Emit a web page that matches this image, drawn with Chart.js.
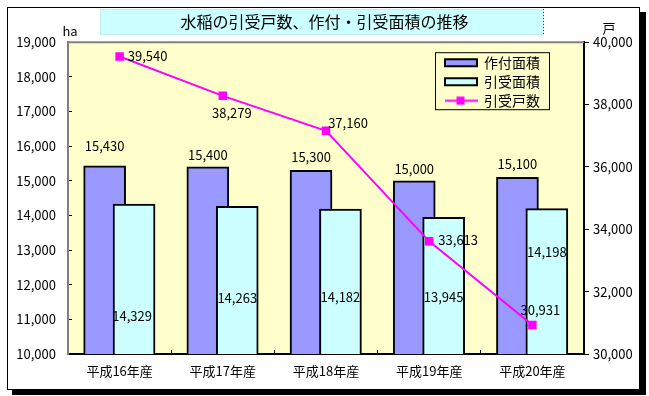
<!DOCTYPE html>
<html>
<head>
<meta charset="utf-8">
<script src="https://cdn.jsdelivr.net/npm/chart.js@4"></script>
<style>
  html, body { margin: 0; padding: 0; background: #fff; }
  #wrap { width: 649px; height: 396px; }
</style>
</head>
<body>
<div id="wrap"><canvas id="myChart" width="649" height="396"></canvas></div>
<script>
"use strict";
// Data
const years = ["平成16年産", "平成17年産", "平成18年産", "平成19年産", "平成20年産"];
const plantedArea = [15430, 15400, 15300, 15000, 15100];   // 作付面積 (ha)
const insuredArea = [14329, 14263, 14182, 13945, 14198];   // 引受面積 (ha)
const insuredFarms = [39540, 38279, 37160, 33613, 30931];  // 引受戸数 (戸)

// Label placement (pixel offsets, moved by hand in the original)
const plantedLabelDy = [-20, -12, -13, -12, -13];
const insuredLabelDy = [112, 92, 88, 80, 43];
const farmLabelDx = [28, 9, 22, 29, 8];
const farmLabelDy = [0, 17, -8, -1, -15];

const FONT = '"Noto Sans CJK JP", "Noto Sans", sans-serif';
const MAGENTA = "#ff00ff";
Chart.defaults.font.family = FONT;
Chart.defaults.font.size = 13;
Chart.defaults.color = "#000";

// legend icon for the line series
const lineIcon = document.createElement("canvas");
lineIcon.width = 33;
lineIcon.height = 9;
(function () {
    const c = lineIcon.getContext("2d");
    c.fillStyle = MAGENTA;
    c.fillRect(0, 3.5, 33, 2);
    c.fillRect(12, 0.5, 8, 8);
})();

const fmt = (v) => v.toLocaleString("en-US");

const framePlugin = {
    id: "frame",
    beforeDraw(chart) {
        const { ctx, chartArea: a } = chart;
        ctx.save();
        ctx.fillStyle = "#fff";
        ctx.fillRect(0, 0, chart.width, chart.height);
        ctx.fillStyle = "#000";
        ctx.fillRect(12, 12, 634, 383);
        ctx.fillStyle = "#fff";
        ctx.fillRect(7, 7, 633, 383);
        ctx.strokeStyle = "#000";
        ctx.lineWidth = 1;
        ctx.strokeRect(7.5, 7.5, 632, 382);
        // title box
        ctx.fillStyle = "#ccffff";
        ctx.fillRect(100, 9, 444, 26);
        ctx.strokeStyle = "#bfeeee";
        ctx.strokeRect(100.5, 9.5, 443, 25);
        ctx.strokeStyle = "#444";
        ctx.setLineDash([1, 2]);
        ctx.beginPath();
        ctx.moveTo(543.5, 9);
        ctx.lineTo(543.5, 35);
        ctx.stroke();
        ctx.setLineDash([]);
        // plot area
        ctx.fillStyle = "#ffffcc";
        ctx.fillRect(a.left, a.top, a.right - a.left, a.bottom - a.top);
        ctx.restore();
    },
    afterLayout(chart) {
        const lg = chart.legend;
        const a = chart.chartArea;
        lg.left = a.right - 144;
        lg.top = a.top + 8.5;
        lg.width = 120;
        lg.height = 80;
        lg.right = lg.left + lg.width;
        lg.bottom = lg.top + lg.height;
    },
    afterDraw(chart) {
        const { ctx, chartArea: a } = chart;
        ctx.save();
        // plot area top edge
        ctx.strokeStyle = "#808080";
        ctx.lineWidth = 2;
        ctx.beginPath();
        ctx.moveTo(a.left, a.top);
        ctx.lineTo(a.right, a.top);
        ctx.stroke();
        // legend frame
        ctx.strokeStyle = "#000";
        ctx.lineWidth = 1;
        ctx.strokeRect(a.right - 148.5, a.top + 10.5, 114, 57);
        // axis units
        ctx.fillStyle = "#000";
        ctx.font = "13px " + FONT;
        ctx.textAlign = "center";
        ctx.textBaseline = "middle";
        ctx.fillText("ha", a.left + 2, 31);
        ctx.fillText("戸", a.right + 25, 28);
        ctx.restore();
    },
    afterDatasetsDraw(chart) {
        const { ctx } = chart;
        ctx.save();
        ctx.fillStyle = "#000";
        ctx.font = "13px " + FONT;
        ctx.textAlign = "center";
        ctx.textBaseline = "middle";
        chart.getDatasetMeta(0).data.forEach((bar, i) => {
            ctx.fillText(fmt(plantedArea[i]), bar.x, bar.y + plantedLabelDy[i]);
        });
        chart.getDatasetMeta(1).data.forEach((bar, i) => {
            ctx.fillText(fmt(insuredArea[i]), bar.x - (i === 0 ? 2 : 0), bar.y + insuredLabelDy[i]);
        });
        chart.getDatasetMeta(2).data.forEach((pt, i) => {
            ctx.fillText(fmt(insuredFarms[i]), pt.x + farmLabelDx[i], pt.y + farmLabelDy[i]);
        });
        ctx.restore();
    },
};

const barShift = [-0.145, 0.14];

const data = {
    labels: years,
    datasets: [
        {
            type: "bar",
            label: "作付面積",
            data: plantedArea.map((v, i) => ({ x: i + barShift[0], y: v })),
            backgroundColor: "#9999ff",
            borderColor: "#000",
            borderWidth: 2,
            barThickness: 42,
            grouped: false,
            xAxisID: "xb",
            yAxisID: "y",
            order: 3,
        },
        {
            type: "bar",
            label: "引受面積",
            data: insuredArea.map((v, i) => ({ x: i + barShift[1], y: v })),
            backgroundColor: "#ccffff",
            borderColor: "#000",
            borderWidth: 2,
            barThickness: 42,
            grouped: false,
            xAxisID: "xb",
            yAxisID: "y",
            order: 2,
        },
        {
            type: "line",
            label: "引受戸数",
            data: insuredFarms,
            borderColor: MAGENTA,
            backgroundColor: MAGENTA,
            borderWidth: 2,
            pointStyle: "rect",
            pointRadius: 6,
            pointBorderWidth: 0,
            tension: 0,
            xAxisID: "x",
            yAxisID: "y2",
            order: 1,
        },
    ],
};

const config = {
    type: "bar",
    data: data,
    plugins: [framePlugin],
    options: {
        responsive: false,
        animation: false,
        layout: { padding: { top: 9, left: 0, right: 0, bottom: 0 } },
        scales: {
            x: {
                type: "category",
                offset: true,
                border: { color: "#000", width: 2 },
                grid: { offset: true, drawOnChartArea: false, tickLength: -4, color: "#000" },
                ticks: { padding: 13, font: { size: 13 } },
                afterFit(s) { s.height = 42; },
            },
            xb: {
                type: "linear",
                display: false,
                offset: false,
                min: -0.5,
                max: 4.5,
                grid: { offset: false },
            },
            y: {
                position: "left",
                min: 10000,
                max: 19000,
                border: { color: "#808080", width: 2 },
                grid: { drawOnChartArea: false, tickLength: -4, color: "#000" },
                ticks: { stepSize: 1000, padding: 16 },
                afterFit(s) { s.width = 68; },
            },
            y2: {
                position: "right",
                min: 30000,
                max: 40000,
                border: { color: "#000", width: 2 },
                grid: { drawOnChartArea: false, tickLength: 5, color: "#000" },
                ticks: { stepSize: 2000, padding: 4 },
                afterFit(s) { s.width = 65; },
            },
        },
        plugins: {
            title: {
                display: true,
                text: "水稲の引受戸数、作付・引受面積の推移",
                color: "#000",
                font: { size: 16, weight: "normal" },
                padding: { top: 3, bottom: 11 },
            },
            legend: {
                display: true,
                position: "chartArea",
                align: "start",
                labels: {
                    usePointStyle: true,
                    pointStyleWidth: 32,
                    boxHeight: 7,
                    padding: 5,
                    color: "#000",
                    font: { size: 14 },
                    generateLabels(chart) {
                        const items = Chart.defaults.plugins.legend.labels.generateLabels(chart);
                        items.sort((a, b) => a.datasetIndex - b.datasetIndex);
                        items.forEach((it) => {
                            if (it.datasetIndex === 2) {
                                it.pointStyle = lineIcon;
                            } else {
                                it.pointStyle = "rect";
                                it.lineWidth = 2;
                                it.strokeStyle = "#000";
                            }
                        });
                        return items;
                    },
                },
            },
            tooltip: { enabled: false },
        },
    },
};

const myChart = new Chart(document.getElementById("myChart"), config);
</script>
</body>
</html>
